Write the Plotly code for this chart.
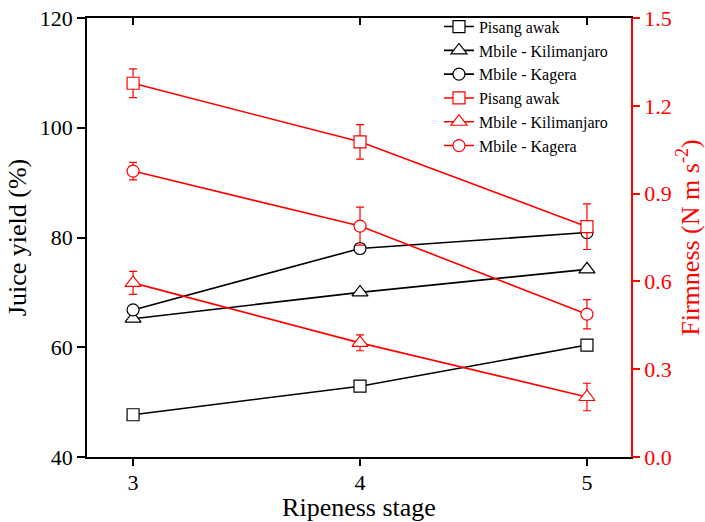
import plotly.graph_objects as go

stages = [3, 4, 5]

# Juice yield (%) - left axis
juice_pisang = [47.7, 52.9, 60.4]
juice_kilimanjaro = [65.2, 70.0, 74.2]
juice_kagera = [66.8, 78.0, 80.9]

# Firmness (N m s^-2) - right axis
firm_pisang = [1.277, 1.077, 0.787]
firm_pisang_err = [0.049, 0.059, 0.078]
firm_kilimanjaro = [0.595, 0.39, 0.205]
firm_kilimanjaro_err = [0.039, 0.027, 0.047]
firm_kagera = [0.977, 0.789, 0.488]
firm_kagera_err = [0.03, 0.065, 0.05]

names = ["Pisang awak", "Mbile - Kilimanjaro", "Mbile - Kagera"]
symbols = ["square", "triangle-up", "circle"]

FONT = "Liberation Serif"

fig = go.Figure()

for name, sym, vals in zip(names, symbols, [juice_pisang, juice_kilimanjaro, juice_kagera]):
    fig.add_trace(go.Scatter(
        x=stages, y=vals, name=name, mode="lines+markers",
        line=dict(color="black", width=1.6),
        marker=dict(symbol=sym, size=12 if sym != "triangle-up" else 14, color="white",
                    line=dict(color="black", width=1.2)),
        yaxis="y",
    ))

for name, sym, vals, err in zip(names, symbols,
                                [firm_pisang, firm_kilimanjaro, firm_kagera],
                                [firm_pisang_err, firm_kilimanjaro_err, firm_kagera_err]):
    fig.add_trace(go.Scatter(
        x=stages, y=vals, name=name, mode="lines+markers",
        line=dict(color="red", width=1.6),
        marker=dict(symbol=sym, size=12 if sym != "triangle-up" else 14, color="white",
                    line=dict(color="red", width=1.2)),
        error_y=dict(type="data", array=err, visible=True, color="red", thickness=1.2, width=4),
        yaxis="y2",
    ))

# empty trace so the top (mirrored) axis with inside ticks is drawn
fig.add_trace(go.Scatter(x=stages, y=[None] * len(stages), xaxis="x2", yaxis="y",
                         showlegend=False, hoverinfo="skip", mode="lines"))

fig.update_layout(
    width=705, height=522,
    margin=dict(l=87, r=74, t=18, b=65, autoexpand=False),
    paper_bgcolor="white", plot_bgcolor="white",
    font=dict(family=FONT, size=22, color="black"),
    showlegend=True,
    legend=dict(
        x=0.647, y=1.019, xanchor="left", yanchor="top",
        bgcolor="rgba(0,0,0,0)", borderwidth=0,
        font=dict(family=FONT, size=16, color="black"),
        tracegroupgap=0, itemwidth=30,
    ),
    xaxis=dict(
        range=[2.797, 5.194], tickvals=stages, ticktext=[str(s) for s in stages],
        showline=True, linecolor="black", linewidth=1.6, ticks="outside",
        ticklen=7, tickwidth=1.6, tickcolor="black", showgrid=False, zeroline=False,
        ticklabelstandoff=-2,
        title=dict(text="Ripeness stage", standoff=6), automargin=False,
    ),
    xaxis2=dict(
        range=[2.797, 5.194], tickvals=stages, overlaying="x", side="top", anchor="y",
        showline=True, linecolor="black", linewidth=1.6, ticks="inside",
        ticklen=7, tickwidth=1.6, tickcolor="black", showticklabels=False,
        showgrid=False, zeroline=False, automargin=False,
    ),
    yaxis=dict(
        range=[40, 120], tickvals=[40, 60, 80, 100, 120],
        showline=True, linecolor="black", linewidth=1.6, ticks="outside",
        ticklen=8, tickwidth=1.6, tickcolor="black", showgrid=False, zeroline=False,
        title=dict(text="Juice yield (%)", standoff=6), automargin=False,
    ),
    yaxis2=dict(
        range=[0, 1.5], tickvals=[0, 0.3, 0.6, 0.9, 1.2, 1.5], tickformat=".1f",
        overlaying="y", side="right", anchor="x",
        showline=True, linecolor="red", linewidth=1.6, ticks="outside",
        ticklen=7, tickwidth=1.6, tickcolor="red", showgrid=False, zeroline=False,
        tickfont=dict(color="red"), automargin=False,
        title=dict(text="Firmness (N m s<sup>-2</sup>)", font=dict(color="red"), standoff=9),
    ),
)

fig.write_html("out.html")
